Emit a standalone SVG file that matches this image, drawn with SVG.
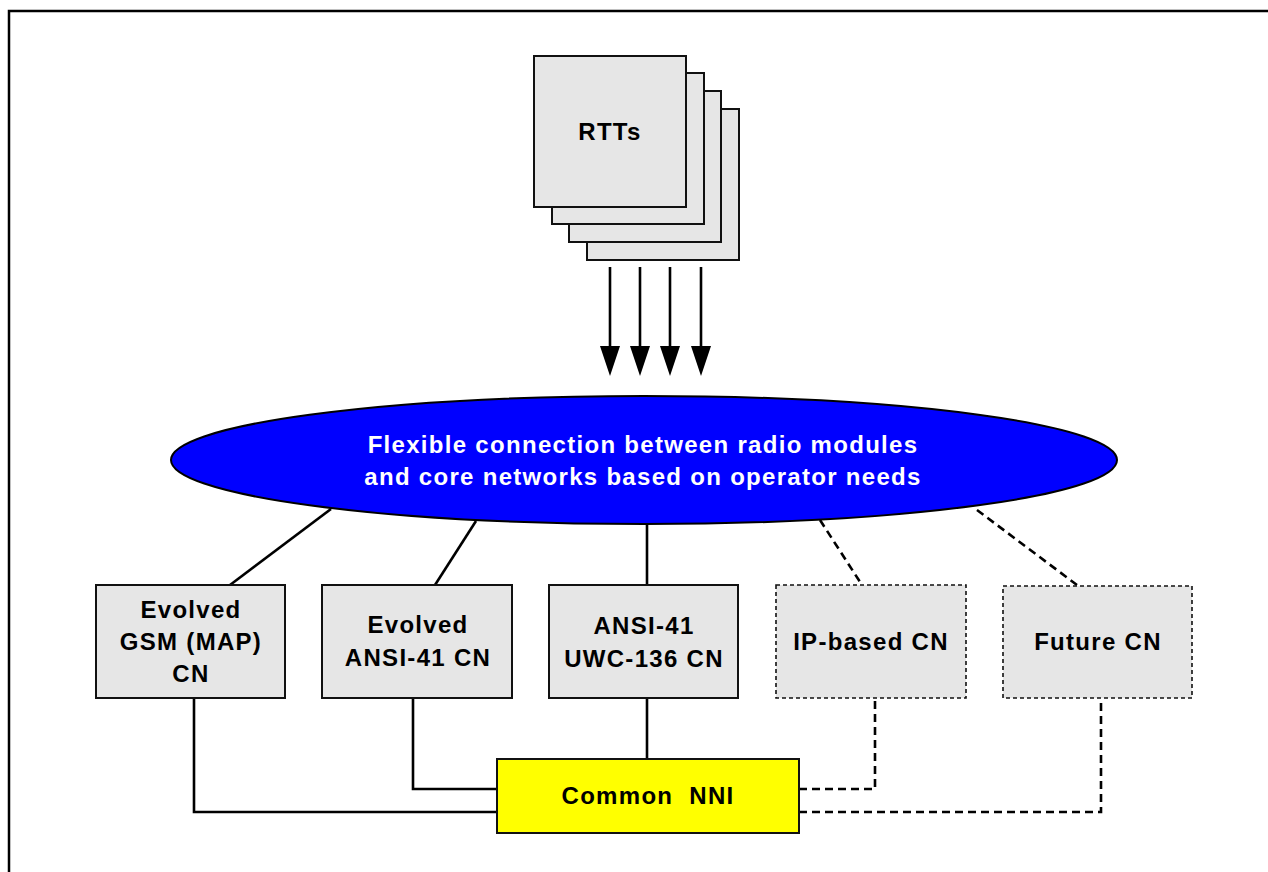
<svg xmlns="http://www.w3.org/2000/svg" width="1268" height="872" viewBox="0 0 1268 872">
  <defs>
    <marker id="ah" viewBox="0 0 30 20" refX="4" refY="10" markerWidth="30" markerHeight="20" markerUnits="userSpaceOnUse" orient="auto">
      <path d="M0,0 L30,10 L0,20 Z" fill="#000"/>
    </marker>
  </defs>
  <style>
    .box { fill: #e6e6e6; stroke: #111; stroke-width: 2; }
    .dbox { fill: #e6e6e6; stroke: #111; stroke-width: 1.6; stroke-dasharray: 4 3; }
    .t { font-family: "Liberation Sans", Arial, sans-serif; font-weight: bold; font-size: 24px; letter-spacing: 1.3px; fill: #000; text-anchor: middle; }
    .w { fill: #fff; }
    .ln { fill: none; stroke: #000; stroke-width: 2.6; }
    .dl { fill: none; stroke: #000; stroke-width: 2.6; stroke-dasharray: 8 5; }
  </style>
  <rect width="1268" height="872" fill="#fff"/>
  <path d="M9,872 V11 H1268" fill="none" stroke="#000" stroke-width="2.5"/>

  <g id="connectors">
    <path class="ln" d="M610,267 V350" marker-end="url(#ah)"/>
    <path class="ln" d="M640,267 V350" marker-end="url(#ah)"/>
    <path class="ln" d="M670,267 V350" marker-end="url(#ah)"/>
    <path class="ln" d="M701,267 V350" marker-end="url(#ah)"/>
    <path class="ln" d="M331,509 L230,585"/>
    <path class="ln" d="M476,521 L435,585"/>
    <path class="ln" d="M647,524 V585"/>
    <path class="dl" d="M820,520 L862,585"/>
    <path class="dl" d="M977,510 L1077,585"/>
    <path class="ln" d="M194,698 V812 H497"/>
    <path class="ln" d="M413,698 V789 H497"/>
    <path class="ln" d="M647,698 V759"/>
    <path class="dl" d="M799,789 H875 V698"/>
    <path class="dl" d="M799,812 H1101 V698"/>
  </g>

  <g id="rtts">
    <rect class="box" x="587" y="109" width="152" height="151"/>
    <rect class="box" x="569" y="91" width="152" height="151"/>
    <rect class="box" x="552" y="73" width="152" height="151"/>
    <rect class="box" x="534" y="56" width="152" height="151"/>
    <text class="t" x="610" y="140">RTTs</text>
  </g>

  <g id="flex">
    <ellipse cx="644" cy="460" rx="473" ry="64" fill="#0000ff" stroke="#000" stroke-width="2"/>
    <text class="t w" x="643" y="453">Flexible connection between radio modules</text>
    <text class="t w" x="643" y="485">and core networks based on operator needs</text>
  </g>

  <g id="gsm">
    <rect class="box" x="96" y="585" width="189" height="113"/>
    <text class="t" x="191" y="618">Evolved</text>
    <text class="t" x="191" y="650">GSM (MAP)</text>
    <text class="t" x="191" y="682">CN</text>
  </g>

  <g id="ansi41">
    <rect class="box" x="322" y="585" width="190" height="113"/>
    <text class="t" x="418" y="633">Evolved</text>
    <text class="t" x="418" y="666">ANSI-41 CN</text>
  </g>

  <g id="uwc136">
    <rect class="box" x="549" y="585" width="189" height="113"/>
    <text class="t" x="644" y="634">ANSI-41</text>
    <text class="t" x="644" y="667">UWC-136 CN</text>
  </g>

  <g id="ipcn">
    <rect class="dbox" x="776" y="585" width="190" height="113"/>
    <text class="t" x="871" y="650">IP-based CN</text>
  </g>

  <g id="futurecn">
    <rect class="dbox" x="1003" y="586" width="189" height="112"/>
    <text class="t" x="1098" y="650">Future CN</text>
  </g>

  <g id="nni">
    <rect x="497" y="759" width="302" height="74" fill="#ffff00" stroke="#111" stroke-width="2"/>
    <text class="t" x="648" y="804" xml:space="preserve">Common  NNI</text>
  </g>
</svg>
